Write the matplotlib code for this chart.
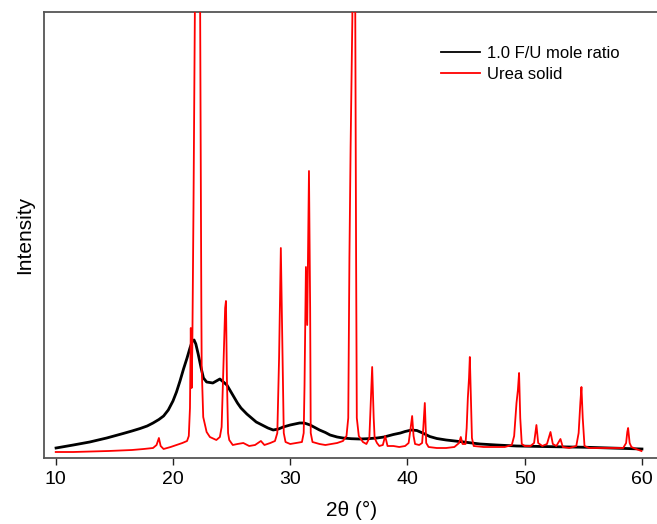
import matplotlib
matplotlib.use("Agg")
import matplotlib.pyplot as plt

plt.rcParams['font.family'] = ['Liberation Sans', 'DejaVu Sans']

# 2-theta positions (deg) and intensities (arb. units) of the two patterns
fu_two_theta = [10.03, 11.5, 12.9, 14.35, 15.75, 16.5, 17.2, 17.8, 18.3, 18.8, 19.2,
                19.6, 20.0, 20.3, 20.6, 20.9, 21.2, 21.45, 21.65, 21.8, 21.95, 22.15,
                22.4, 22.6, 22.87, 23.4, 23.7, 24.0, 24.3, 24.6, 24.9, 25.2, 25.5,
                25.8, 26.3, 26.7, 27.1, 27.6, 28.1, 28.55, 29.0, 29.4, 30.0, 30.8,
                31.2, 31.7, 32.1, 32.5, 33.0, 33.4, 34.0, 34.5, 35.2, 35.9, 36.6,
                37.4, 38.0, 38.8, 39.4, 39.8, 40.35, 40.8, 41.3, 41.9, 42.5, 43.3,
                44.8, 46.2, 47.6, 49.3, 52.4, 55.3, 58.1, 60.0]
fu_intensity = [10, 13, 16, 20, 24.5, 27, 29.5, 32, 35, 38.5, 42,
                48, 57, 66, 77, 89, 100, 110, 117, 118, 114, 104,
                90, 80, 76, 75, 77, 79, 76, 73, 67, 61, 55,
                50, 44, 40, 36, 33, 30, 28, 29, 31, 33, 35,
                35, 33, 30.5, 28, 25.5, 23, 21, 20, 19.3, 19, 19.3,
                20, 21, 23.5, 25, 26.5, 28, 27.5, 25, 21.5, 19.5, 18,
                16, 14, 13, 12, 11.3, 10.7, 9.7, 9]

urea_two_theta = [10.0, 11.5, 13.0, 14.5, 15.5, 16.5, 17.5, 18.3, 18.6, 18.8, 18.95,
                  19.2, 19.8, 20.3, 20.8, 21.2, 21.35, 21.45, 21.52, 21.59, 21.65,
                  21.75, 21.9, 22.1, 22.3, 22.42, 22.45, 22.58, 22.87, 23.15, 23.7,
                  24.0, 24.15, 24.3, 24.45, 24.52, 24.6, 24.7, 24.8, 25.1, 25.5, 26.0,
                  26.5, 27.0, 27.5, 27.8, 28.3, 28.7, 28.9, 29.05, 29.2, 29.35, 29.45,
                  29.6, 30.0, 30.5, 31.0, 31.15, 31.22, 31.34, 31.45, 31.6, 31.7,
                  31.75, 31.9, 32.5, 33.0, 33.5, 34.0, 34.5, 34.8, 34.95, 35.05, 35.09,
                  35.15, 35.3, 35.42, 35.55, 35.62, 35.68, 35.85, 36.2, 36.5, 36.75,
                  36.85, 36.99, 37.12, 37.2, 37.4, 37.6, 37.9, 38.1, 38.3, 38.8, 39.3,
                  39.8, 40.1, 40.25, 40.4, 40.52, 40.65, 41.0, 41.25, 41.35, 41.48,
                  41.6, 41.8, 42.5, 43.3, 44.0, 44.4, 44.55, 44.7, 44.95, 45.05, 45.15,
                  45.25, 45.32, 45.42, 45.5, 45.65, 46.5, 47.5, 48.3, 48.9, 49.1, 49.3,
                  49.42, 49.52, 49.62, 49.75, 50.0, 50.5, 50.8, 51.0, 51.15, 51.5,
                  51.9, 52.2, 52.4, 52.7, 53.05, 53.25, 53.8, 54.4, 54.6, 54.75, 54.84,
                  54.95, 55.1, 55.5, 56.5, 57.5, 58.4, 58.65, 58.75, 58.82, 58.95,
                  59.1, 59.5, 59.96]
urea_intensity = [6, 6, 6.5, 7, 7.5, 8, 9, 10, 13, 20, 12,
                  9, 11, 13, 15, 17, 22, 50, 130, 70, 110,
                  250, 500, 1300, 500, 150, 91, 41, 26, 21, 18,
                  21, 31, 90, 150, 157, 80, 25, 18, 13, 14, 15,
                  12, 13, 17, 13, 15, 17, 25, 100, 210, 100, 25,
                  16, 14, 15, 16, 25, 72, 191, 133, 287, 150,
                  25, 16, 14, 13, 14, 15, 17, 22, 40, 200, 246,
                  310, 440, 1200, 440, 200, 40, 22, 16, 14, 20,
                  50, 91, 40, 20, 15, 12, 13, 22, 12, 12, 11,
                  12, 15, 28, 42, 22, 14, 13, 15, 30, 55,
                  15, 11, 10, 10, 11, 15, 21, 14, 14, 30, 60,
                  80, 101, 55, 20, 12, 11, 11, 11, 13, 22, 55,
                  68, 85, 40, 14, 12, 12, 15, 33, 15, 12,
                  14, 26, 14, 12, 19, 11, 10, 12, 25, 56, 71,
                  40, 12, 10, 10, 10, 10, 15, 26, 30, 15,
                  11, 9, 7]

x_ticks = [10, 20, 30, 40, 50, 60]

fig = plt.figure(figsize=(6.57, 5.24), dpi=100)
ax = fig.add_axes([44 / 657, 66 / 524, 616 / 657, 446 / 524])

ax.plot(fu_two_theta, fu_intensity, color='black', lw=2.0, label='1.0 F/U mole ratio', zorder=2)
ax.plot(urea_two_theta, urea_intensity, color='#ff0000', lw=1.3, label='Urea solid', zorder=3)

ax.set_xlim(9.0, 61.54)
ax.set_ylim(0, 446)
ax.set_xticks(x_ticks)
ax.set_yticks([])
ax.tick_params(axis='x', direction='out', length=5, width=1.0, labelsize=14, colors='#222222',
               pad=4)
ax.tick_params(axis='x', labelcolor='black')
for side in ('left', 'top', 'bottom'):
    ax.spines[side].set_color('#555555')
    ax.spines[side].set_linewidth(1.3)
ax.spines['right'].set_visible(False)

ax.set_xlabel('2θ (°)', fontsize=15, labelpad=10)
ax.set_ylabel('Intensity', fontsize=15, labelpad=7)

leg = ax.legend(loc='upper left', bbox_to_anchor=(433 / 657, 1 - 38 / 524),
                bbox_transform=fig.transFigure, frameon=False, fontsize=12,
                handlelength=2.3, handletextpad=0.45, labelspacing=0.35, borderpad=0)
for line in leg.get_lines():
    line.set_linewidth(1.3)

fig.savefig('out.png', dpi=100)
